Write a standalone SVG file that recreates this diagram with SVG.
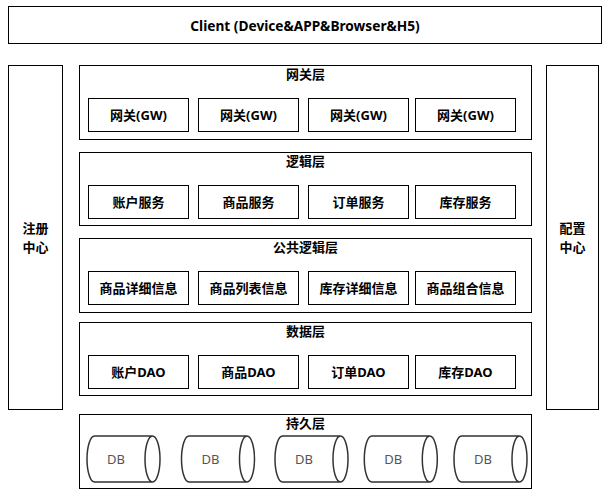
<svg xmlns="http://www.w3.org/2000/svg" width="609" height="501" viewBox="0 0 609 501">
<defs>
<style>
.box{fill:#fff;stroke:#000;stroke-width:1}
.t{font-family:"Noto Sans","Noto Sans CJK SC",sans-serif;font-size:13px;font-weight:bold;fill:#000;text-anchor:middle;dominant-baseline:central}
.db{fill:#fff;stroke:#333;stroke-width:1.5}
.dbt{font-family:"Noto Sans","Noto Sans CJK SC",sans-serif;font-size:13px;fill:#555;text-anchor:middle;dominant-baseline:central}
</style>
</defs>
<rect width="609" height="501" fill="#fff"/>
<g id="client"><rect class="box" x="8.5" y="6.5" width="593" height="37"/><text class="t" x="305" y="25" style="font-size:13.7px">Client (Device&amp;APP&amp;Browser&amp;H5)</text></g>
<g id="registry"><rect class="box" x="8.5" y="65.5" width="54" height="344"/><text class="t" x="35.5" y="228">注册</text><text class="t" x="35.5" y="247">中心</text></g>
<g id="config"><rect class="box" x="546.5" y="65.5" width="52" height="344"/><text class="t" x="572.5" y="228">配置</text><text class="t" x="572.5" y="247">中心</text></g>

<g id="gateway-layer"><rect class="box" x="79.5" y="65.5" width="452" height="74"/><text class="t" x="305.5" y="73.5">网关层</text></g>
<g id="gw1"><rect class="box" x="88.5" y="98.5" width="100" height="33"/><text class="t" x="138.5" y="115">网关(GW)</text></g>
<g id="gw2"><rect class="box" x="198.5" y="98.5" width="100" height="33"/><text class="t" x="248.5" y="115">网关(GW)</text></g>
<g id="gw3"><rect class="box" x="308.5" y="98.5" width="100" height="33"/><text class="t" x="358.5" y="115">网关(GW)</text></g>
<g id="gw4"><rect class="box" x="415.5" y="98.5" width="100" height="33"/><text class="t" x="465.5" y="115">网关(GW)</text></g>

<g id="logic-layer"><rect class="box" x="79.5" y="152.5" width="452" height="73"/><text class="t" x="305.5" y="160.5">逻辑层</text></g>
<g id="svc1"><rect class="box" x="88.5" y="185.5" width="100" height="33"/><text class="t" x="138.5" y="202">账户服务</text></g>
<g id="svc2"><rect class="box" x="198.5" y="185.5" width="100" height="33"/><text class="t" x="248.5" y="202">商品服务</text></g>
<g id="svc3"><rect class="box" x="308.5" y="185.5" width="100" height="33"/><text class="t" x="358.5" y="202">订单服务</text></g>
<g id="svc4"><rect class="box" x="415.5" y="185.5" width="100" height="33"/><text class="t" x="465.5" y="202">库存服务</text></g>

<g id="common-layer"><rect class="box" x="79.5" y="238.5" width="452" height="74"/><text class="t" x="305.5" y="246.5">公共逻辑层</text></g>
<g id="c1"><rect class="box" x="88.5" y="271.5" width="100" height="33"/><text class="t" x="138.5" y="288">商品详细信息</text></g>
<g id="c2"><rect class="box" x="198.5" y="271.5" width="100" height="33"/><text class="t" x="248.5" y="288">商品列表信息</text></g>
<g id="c3"><rect class="box" x="308.5" y="271.5" width="100" height="33"/><text class="t" x="358.5" y="288">库存详细信息</text></g>
<g id="c4"><rect class="box" x="415.5" y="271.5" width="100" height="33"/><text class="t" x="465.5" y="288">商品组合信息</text></g>

<g id="data-layer"><rect class="box" x="79.5" y="322.5" width="452" height="73"/><text class="t" x="305.5" y="330.5">数据层</text></g>
<g id="d1"><rect class="box" x="88.5" y="355.5" width="100" height="33"/><text class="t" x="138.5" y="372">账户DAO</text></g>
<g id="d2"><rect class="box" x="198.5" y="355.5" width="100" height="33"/><text class="t" x="248.5" y="372">商品DAO</text></g>
<g id="d3"><rect class="box" x="308.5" y="355.5" width="100" height="33"/><text class="t" x="358.5" y="372">订单DAO</text></g>
<g id="d4"><rect class="box" x="415.5" y="355.5" width="100" height="33"/><text class="t" x="465.5" y="372">库存DAO</text></g>

<g id="persist-layer"><rect class="box" x="79.5" y="414.5" width="452" height="74"/><text class="t" x="305.5" y="423">持久层</text></g>
<g id="db1"><path class="db" d="M94.5,436 L152.5,436 A7.5,23 0 0 1 152.5,482 L94.5,482 A7.5,23 0 0 1 94.5,436 Z M152.5,436 A7.5,23 0 0 0 152.5,482"/><text class="dbt" x="116" y="459">DB</text></g>
<g id="db2"><path class="db" d="M189,436 L247,436 A7.5,23 0 0 1 247,482 L189,482 A7.5,23 0 0 1 189,436 Z M247,436 A7.5,23 0 0 0 247,482"/><text class="dbt" x="210.5" y="459">DB</text></g>
<g id="db3"><path class="db" d="M282.5,436 L340.5,436 A7.5,23 0 0 1 340.5,482 L282.5,482 A7.5,23 0 0 1 282.5,436 Z M340.5,436 A7.5,23 0 0 0 340.5,482"/><text class="dbt" x="304" y="459">DB</text></g>
<g id="db4"><path class="db" d="M371.8,436 L429.8,436 A7.5,23 0 0 1 429.8,482 L371.8,482 A7.5,23 0 0 1 371.8,436 Z M429.8,436 A7.5,23 0 0 0 429.8,482"/><text class="dbt" x="393.3" y="459">DB</text></g>
<g id="db5"><path class="db" d="M461.5,436 L519.5,436 A7.5,23 0 0 1 519.5,482 L461.5,482 A7.5,23 0 0 1 461.5,436 Z M519.5,436 A7.5,23 0 0 0 519.5,482"/><text class="dbt" x="483" y="459">DB</text></g>
<g id="connectors"></g>
</svg>
